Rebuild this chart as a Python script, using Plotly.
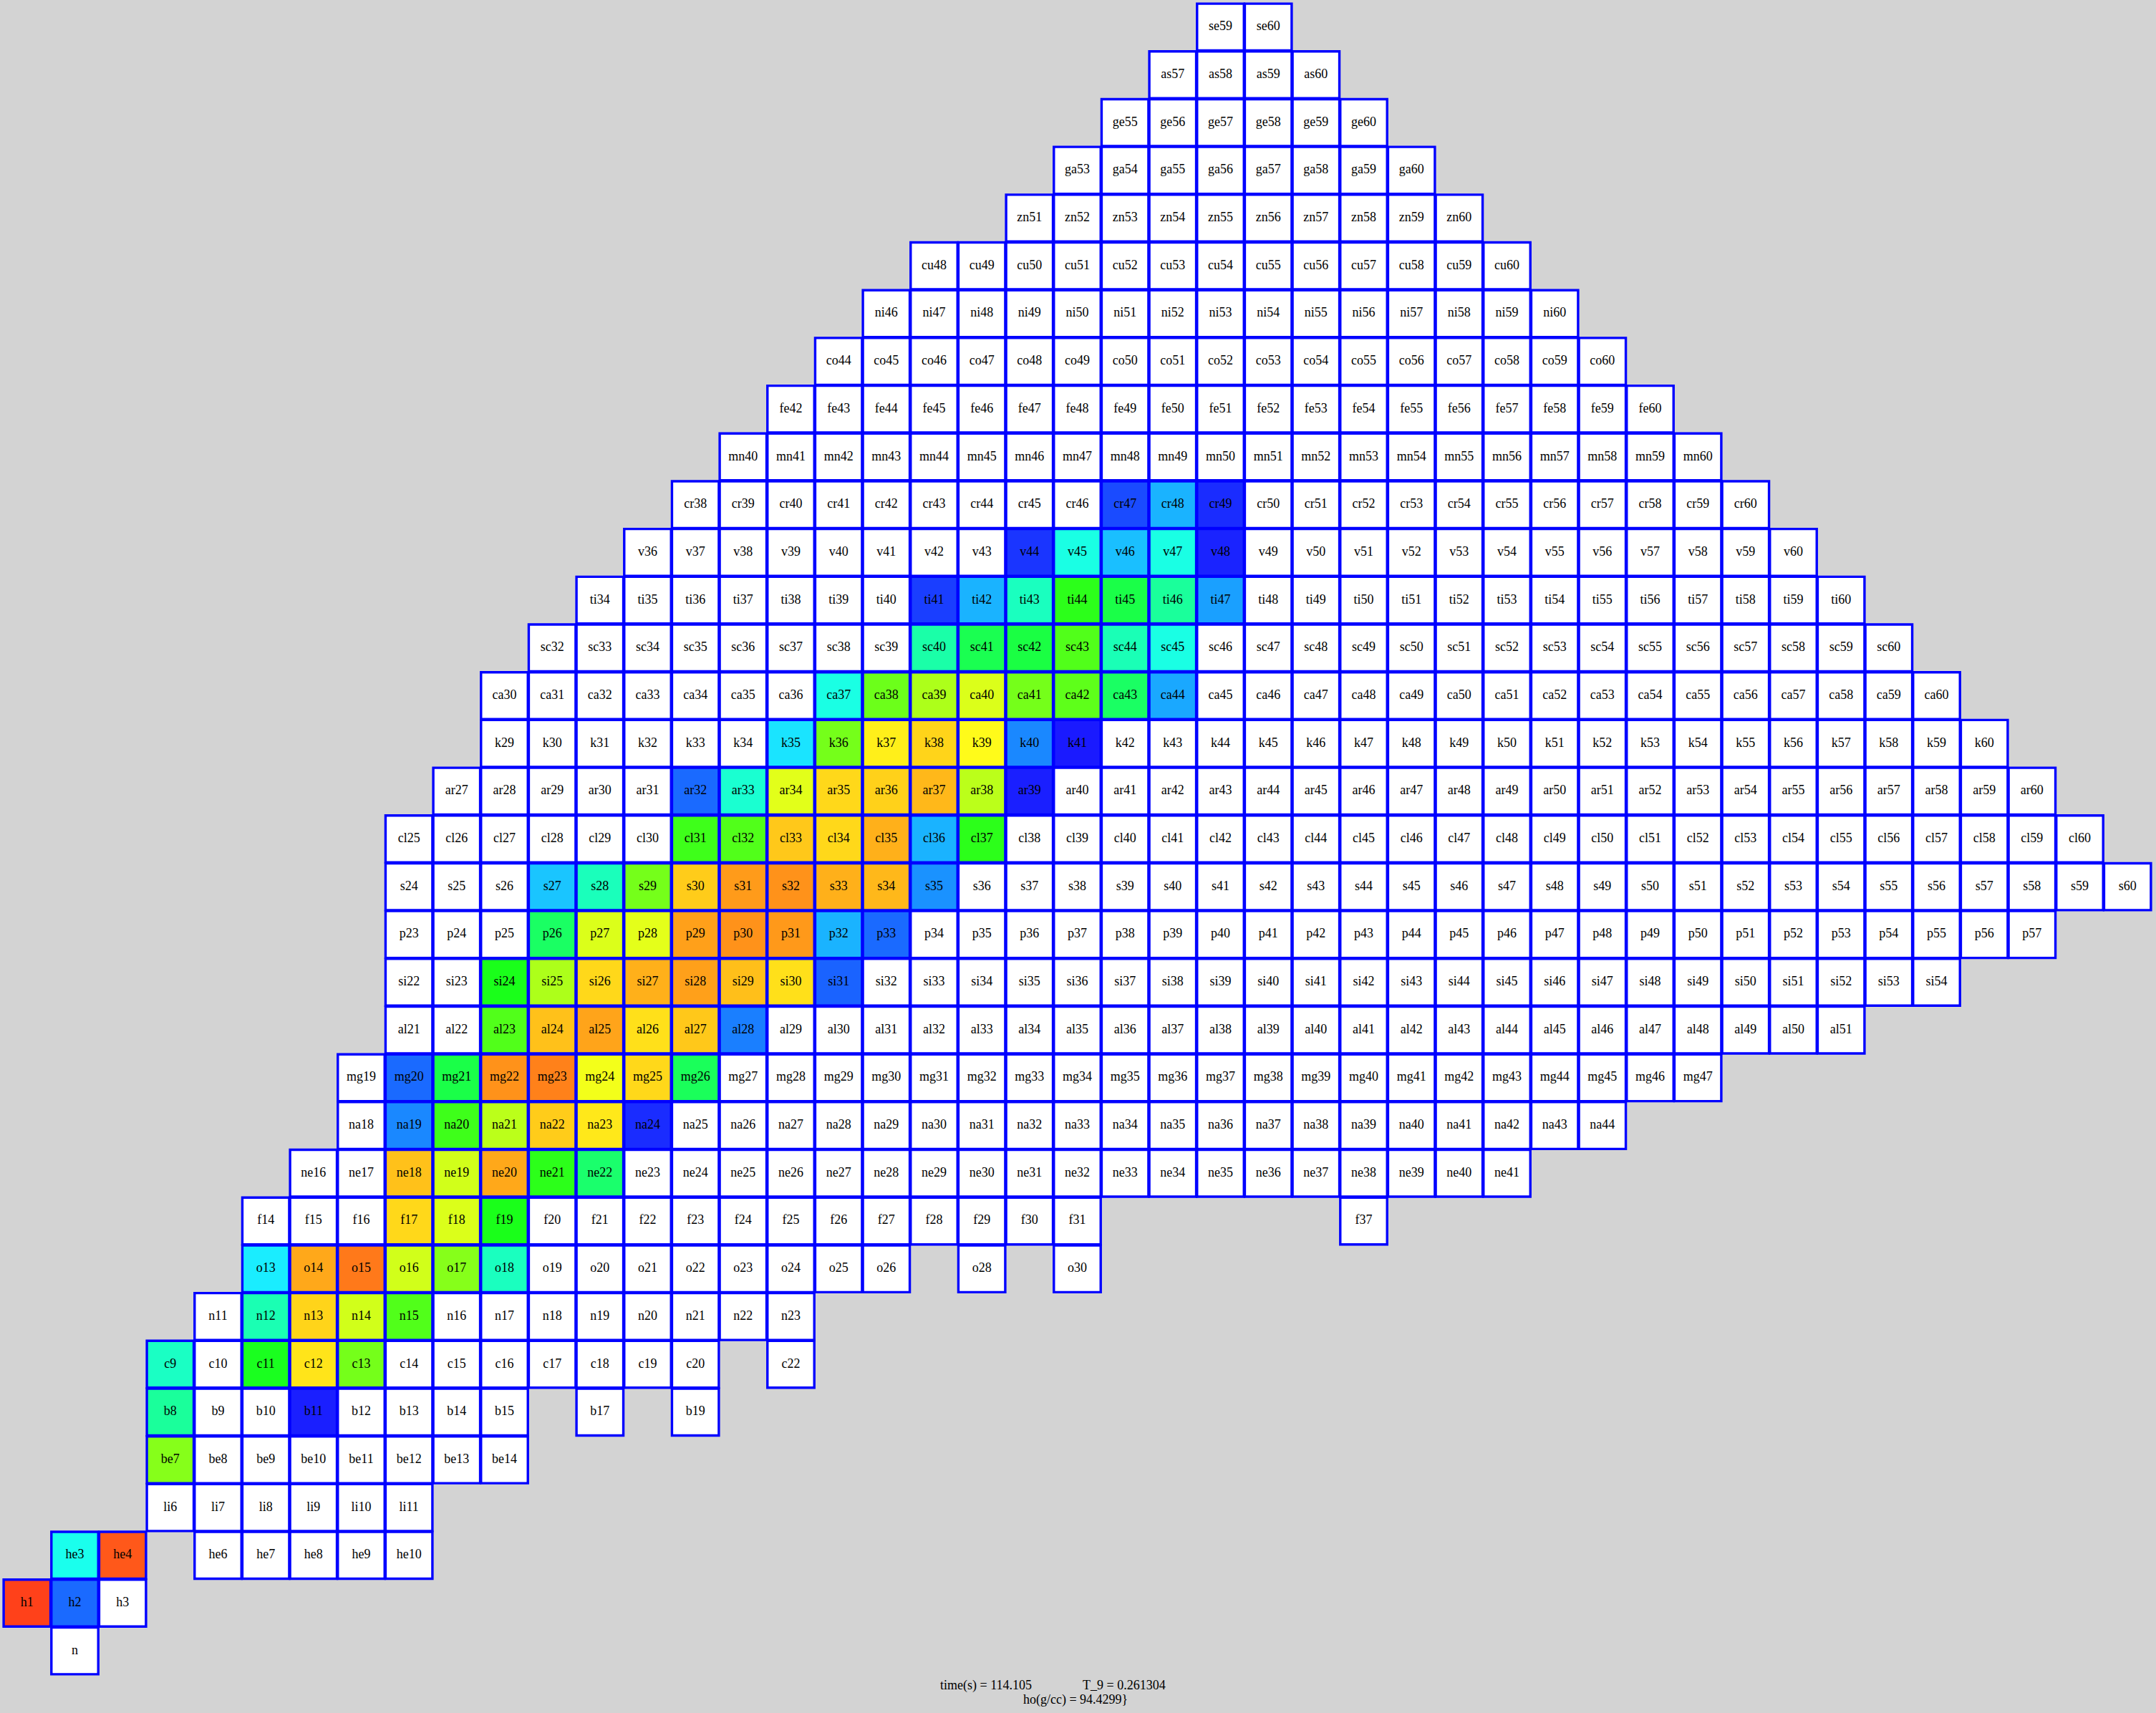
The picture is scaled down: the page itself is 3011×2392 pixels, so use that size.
import colorsys
import plotly.graph_objects as go

W, H = 3011, 2392

# Element symbols indexed by proton number Z
symbols = ["n", "h", "he", "li", "be", "b", "c", "n", "o", "f", "ne", "na", "mg", "al",
           "si", "p", "s", "cl", "ar", "k", "ca", "sc", "ti", "v", "cr", "mn", "fe", "co",
           "ni", "cu", "zn", "ga", "ge", "as", "se"]

# Mass numbers present in the network, per element (index = Z)
masses = [
    [1],
    [1, 2, 3],
    [3, 4, 6, 7, 8, 9, 10],
    [6, 7, 8, 9, 10, 11],
    [7, 8, 9, 10, 11, 12, 13, 14],
    [8, 9, 10, 11, 12, 13, 14, 15, 17, 19],
    [9, 10, 11, 12, 13, 14, 15, 16, 17, 18, 19, 20, 22],
    [11, 12, 13, 14, 15, 16, 17, 18, 19, 20, 21, 22, 23],
    [13, 14, 15, 16, 17, 18, 19, 20, 21, 22, 23, 24, 25, 26, 28, 30],
    [14, 15, 16, 17, 18, 19, 20, 21, 22, 23, 24, 25, 26, 27, 28, 29, 30, 31, 37],
    list(range(16, 42)),
    list(range(18, 45)),
    list(range(19, 48)),
    list(range(21, 52)),
    list(range(22, 55)),
    list(range(23, 58)),
    list(range(24, 61)),
    list(range(25, 61)),
    list(range(27, 61)),
    list(range(29, 61)),
    list(range(30, 61)),
    list(range(32, 61)),
    list(range(34, 61)),
    list(range(36, 61)),
    list(range(38, 61)),
    list(range(40, 61)),
    list(range(42, 61)),
    list(range(44, 61)),
    list(range(46, 61)),
    list(range(48, 61)),
    list(range(51, 61)),
    list(range(53, 61)),
    list(range(55, 61)),
    list(range(57, 61)),
    list(range(59, 61)),
]

# Abundance colour level (0 = lowest shown, 1 = highest)
colored_names = [
    "h1", "h2", "he3", "he4", "be7", "b8", "b11", "c9", "c11", "c12", "c13",
    "n12", "n13", "n14", "n15", "o13", "o14", "o15", "o16", "o17", "o18",
    "f17", "f18", "f19", "ne18", "ne19", "ne20", "ne21", "ne22",
    "na19", "na20", "na21", "na22", "na23", "na24",
    "mg20", "mg21", "mg22", "mg23", "mg24", "mg25", "mg26",
    "al23", "al24", "al25", "al26", "al27", "al28",
    "si24", "si25", "si26", "si27", "si28", "si29", "si30", "si31",
    "p26", "p27", "p28", "p29", "p30", "p31", "p32", "p33",
    "s27", "s28", "s29", "s30", "s31", "s32", "s33", "s34", "s35",
    "cl31", "cl32", "cl33", "cl34", "cl35", "cl36", "cl37",
    "ar32", "ar33", "ar34", "ar35", "ar36", "ar37", "ar38", "ar39",
    "k35", "k36", "k37", "k38", "k39", "k40", "k41",
    "ca37", "ca38", "ca39", "ca40", "ca41", "ca42", "ca43", "ca44",
    "sc40", "sc41", "sc42", "sc43", "sc44", "sc45",
    "ti41", "ti42", "ti43", "ti44", "ti45", "ti46", "ti47",
    "v44", "v45", "v46", "v47", "v48",
    "cr47", "cr48", "cr49",
]
colored_levels = [
    0.957, 0.088, 0.27, 0.932, 0.618, 0.36, 0.005, 0.315, 0.495, 0.78, 0.60,
    0.333, 0.797, 0.70, 0.56, 0.23, 0.845, 0.896, 0.70, 0.618, 0.32,
    0.793, 0.71, 0.50, 0.818, 0.70, 0.845, 0.52, 0.41,
    0.12, 0.54, 0.675, 0.806, 0.775, 0.02,
    0.088, 0.45, 0.869, 0.887, 0.737, 0.793, 0.43,
    0.56, 0.818, 0.85, 0.784, 0.81, 0.11,
    0.50, 0.66, 0.793, 0.837, 0.854, 0.82, 0.784, 0.08,
    0.42, 0.71, 0.72, 0.854, 0.869, 0.862, 0.167, 0.088,
    0.186, 0.325, 0.60, 0.806, 0.86, 0.869, 0.837, 0.828, 0.13,
    0.54, 0.56, 0.81, 0.793, 0.837, 0.167, 0.52,
    0.088, 0.30, 0.718, 0.793, 0.80, 0.828, 0.675, 0.005,
    0.22, 0.60, 0.767, 0.797, 0.754, 0.12, 0.0,
    0.28, 0.59, 0.66, 0.71, 0.60, 0.575, 0.42, 0.155,
    0.345, 0.44, 0.455, 0.56, 0.33, 0.28,
    0.04, 0.167, 0.32, 0.52, 0.45, 0.36, 0.146,
    0.03, 0.28, 0.18, 0.28, 0.01,
    0.054, 0.167, 0.02,
]

info_line1a = "time(s) = 114.105"
info_line1b = "T_9 = 0.261304"
info_line2 = "ho(g/cc) = 94.4299}"

# ---- build cells ----
level_of = dict(zip(colored_names, colored_levels))
wx, wy, wt = [], [], []
cx, cy, ct, cv = [], [], [], []
for Z, sym in enumerate(symbols):
    for A in masses[Z]:
        label = "n" if Z == 0 else f"{sym}{A}"
        N = A - Z
        if label in level_of and Z > 0:
            cx.append(N); cy.append(Z); ct.append(label); cv.append(level_of[label])
        else:
            wx.append(N); wy.append(Z); wt.append(label)

# hue colour scale: blue (low) -> cyan -> green -> yellow -> red (high)
nstop = 48
colorscale = []
for i in range(nstop + 1):
    f = i / nstop
    r, g, b = colorsys.hsv_to_rgb((240.0 * (1 - f)) / 360.0, 0.898, 1.0)
    colorscale.append([f, "rgb(%d,%d,%d)" % (round(r * 255), round(g * 255), round(b * 255))])

x_left, x_right = 4.5, 3004.5
y_top, y_bot = 4.5, 2338.5
ncol, nrow = 45, 35
cell = (x_right - x_left) / ncol
inset = 1.2

font = dict(family="Liberation Serif, Times New Roman, serif", size=18, color="black")
line = dict(color="#0000ff", width=3.4)

fig = go.Figure()
fig.add_trace(go.Scatter(
    x=wx, y=wy, text=wt, mode="markers+text", textposition="middle center",
    marker=dict(symbol="square", size=cell - inset, color="white", line=line),
    textfont=font, cliponaxis=False, hoverinfo="text", showlegend=False))
fig.add_trace(go.Scatter(
    x=cx, y=cy, text=ct, mode="markers+text", textposition="middle center",
    marker=dict(symbol="square", size=cell - inset, color=cv, colorscale=colorscale,
                cmin=0, cmax=1, line=line, showscale=False),
    textfont=font, cliponaxis=False, hoverinfo="text", showlegend=False))

ann_font = dict(family="Liberation Serif, Times New Roman, serif", size=18, color="black")
fig.add_annotation(x=1311 / W, y=(H - 2353) / H, xref="paper", yref="paper",
                   text=info_line1a, showarrow=False, xanchor="left", yanchor="middle", font=ann_font)
fig.add_annotation(x=1510 / W, y=(H - 2353) / H, xref="paper", yref="paper",
                   text=info_line1b, showarrow=False, xanchor="left", yanchor="middle", font=ann_font)
fig.add_annotation(x=1427 / W, y=(H - 2373) / H, xref="paper", yref="paper",
                   text=info_line2, showarrow=False, xanchor="left", yanchor="middle", font=ann_font)

fig.update_layout(
    width=W, height=H, margin=dict(l=0, r=0, t=0, b=0, pad=0),
    paper_bgcolor="#d3d3d3", plot_bgcolor="#d3d3d3",
    xaxis=dict(domain=[x_left / W, x_right / W], range=[-0.5, ncol - 0.5], visible=False,
               showgrid=False, zeroline=False, fixedrange=True),
    yaxis=dict(domain=[(H - y_bot) / H, (H - y_top) / H], range=[-0.5, nrow - 0.5], visible=False,
               showgrid=False, zeroline=False, fixedrange=True),
    showlegend=False,
)

fig.write_html("out.html")
